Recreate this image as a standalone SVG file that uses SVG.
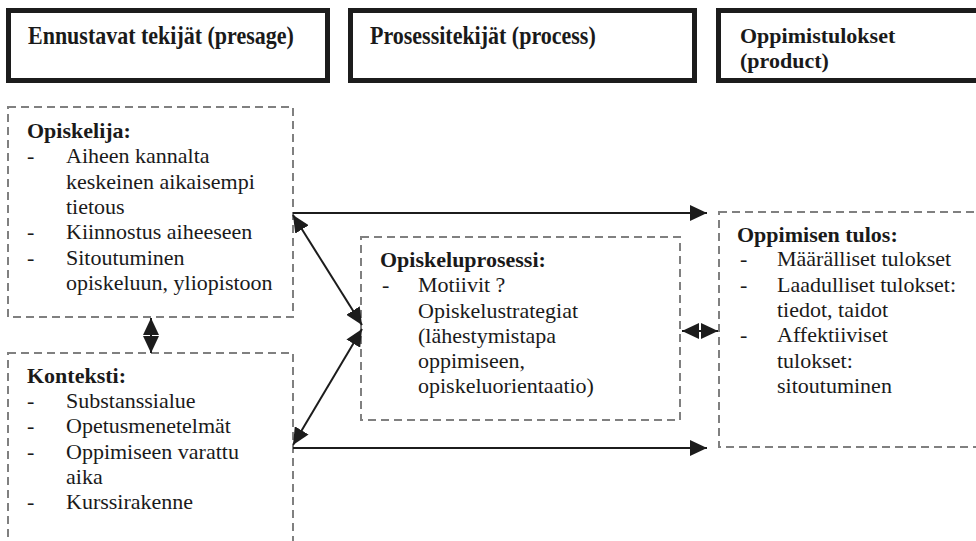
<svg xmlns="http://www.w3.org/2000/svg" width="976" height="541" viewBox="0 0 976 541">
<style>
.hdr{fill:#fff;stroke:#1c1c1c;stroke-width:5}
.dash{fill:#fff;stroke:#808080;stroke-width:2;stroke-dasharray:8 5}
text{font-size:22px;fill:#1a1a1a}
.b{font-weight:bold}
.ln{stroke:#1c1c1c;stroke-width:2;fill:none}
</style>
<defs>
<marker id="ah" viewBox="0 0 17 16" refX="17" refY="8" markerWidth="17" markerHeight="16" markerUnits="userSpaceOnUse" orient="auto-start-reverse">
<path d="M0,0 L17,8 L0,16 z" fill="#1c1c1c"/>
</marker>
</defs>
<rect width="976" height="541" fill="#fff"/>
<g font-family="Liberation Serif, Tinos, Times New Roman, DejaVu Serif, serif">
<g id="hdr-presage">
<rect class="hdr" x="8.5" y="10.5" width="319" height="70"/>
<text class="b" transform="translate(28,44) scale(1,1.1)">Ennustavat tekijät (presage)</text>
</g>
<g id="hdr-process">
<rect class="hdr" x="350.5" y="10.5" width="344" height="70"/>
<text class="b" transform="translate(370,44) scale(1,1.1)">Prosessitekijät (process)</text>
</g>
<g id="hdr-product">
<rect class="hdr" x="718.5" y="10.5" width="270" height="70"/>
<text class="b" x="740" y="43">Oppimistulokset</text>
<text class="b" x="740" y="67.5">(product)</text>
</g>

<g id="opiskelija">
<rect class="dash" x="8" y="107" width="285" height="210"/>
<text class="b" x="27" y="138">Opiskelija:</text>
<text x="27" y="163">-</text><text x="66" y="163">Aiheen kannalta</text>
<text x="66" y="188.5">keskeinen aikaisempi</text>
<text x="66" y="214">tietous</text>
<text x="27" y="239">-</text><text x="66" y="239">Kiinnostus aiheeseen</text>
<text x="27" y="264.5">-</text><text x="66" y="264.5">Sitoutuminen</text>
<text x="66" y="290">opiskeluun, yliopistoon</text>
</g>

<g id="konteksti">
<rect class="dash" x="8" y="353" width="285" height="210"/>
<text class="b" x="27" y="383">Konteksti:</text>
<text x="27" y="408">-</text><text x="66" y="408">Substanssialue</text>
<text x="27" y="433">-</text><text x="66" y="433">Opetusmenetelmät</text>
<text x="27" y="458.5">-</text><text x="66" y="458.5">Oppimiseen varattu</text>
<text x="66" y="484">aika</text>
<text x="27" y="509">-</text><text x="66" y="509">Kurssirakenne</text>
</g>

<g id="opiskeluprosessi">
<rect class="dash" x="361" y="237" width="319" height="183"/>
<text class="b" x="380" y="267">Opiskeluprosessi:</text>
<text x="382" y="292">-</text><text x="418" y="292">Motiivit ?</text>
<text x="418" y="317.5">Opiskelustrategiat</text>
<text x="418" y="343">(lähestymistapa</text>
<text x="418" y="368">oppimiseen,</text>
<text x="418" y="393">opiskeluorientaatio)</text>
</g>

<g id="oppimisen-tulos">
<rect class="dash" x="719" y="212" width="280" height="235"/>
<text class="b" x="737" y="242">Oppimisen tulos:</text>
<text x="740" y="266">-</text><text x="777" y="266">Määrälliset tulokset</text>
<text x="740" y="292">-</text><text x="777" y="292">Laadulliset tulokset:</text>
<text x="777" y="317">tiedot, taidot</text>
<text x="740" y="342">-</text><text x="777" y="342">Affektiiviset</text>
<text x="777" y="367.5">tulokset:</text>
<text x="777" y="393">sitoutuminen</text>
</g>
</g>
<g id="connectors">
<line class="ln" x1="293" y1="213" x2="707" y2="213" marker-end="url(#ah)"/>
<line class="ln" x1="293" y1="448" x2="707" y2="448" marker-end="url(#ah)"/>
<line class="ln" x1="293" y1="215" x2="362" y2="325" marker-start="url(#ah)" marker-end="url(#ah)"/>
<line class="ln" x1="362" y1="329" x2="293" y2="445" marker-start="url(#ah)" marker-end="url(#ah)"/>
<line class="ln" x1="151" y1="318" x2="151" y2="353" marker-start="url(#ah)" marker-end="url(#ah)"/>
<line class="ln" x1="682" y1="331" x2="718" y2="331" marker-start="url(#ah)" marker-end="url(#ah)"/>
</g>
</svg>
